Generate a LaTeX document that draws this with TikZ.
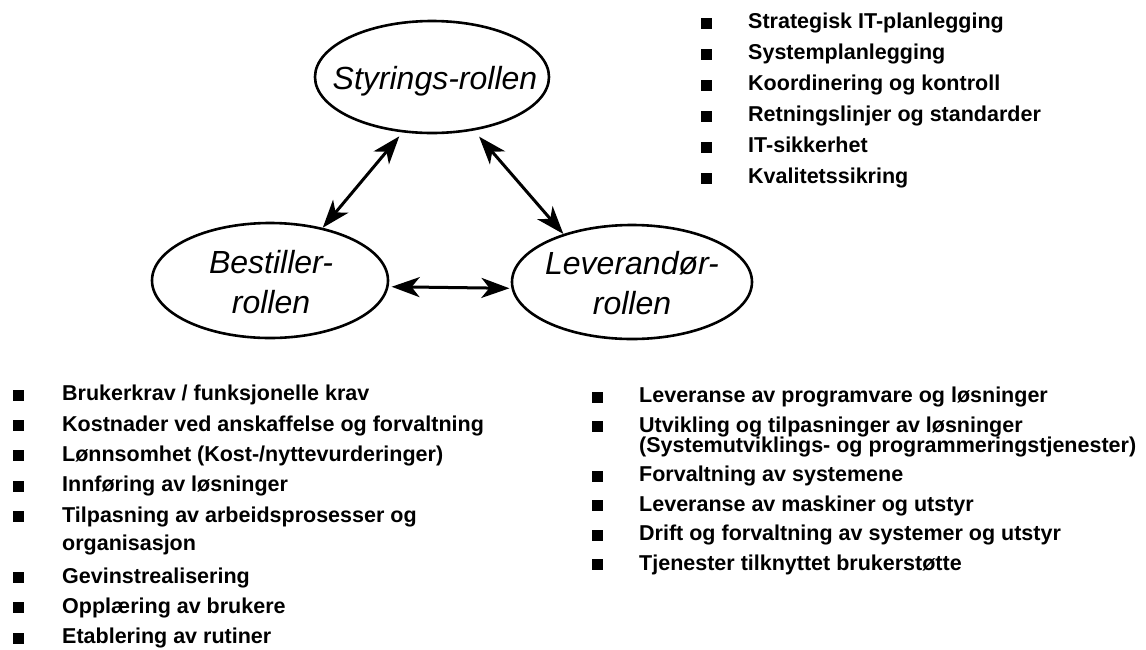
\documentclass[tikz,border=0pt]{standalone}
\usepackage{fontspec}
\setmainfont{Liberation Sans}
\usetikzlibrary{shapes.geometric,arrows.meta}

\begin{document}
\begin{tikzpicture}[x=1pt,y=-1pt,
  role/.style={draw, ellipse, line width=2.6pt, inner sep=0pt},
  roletext/.style={font=\fontsize{32}{40}\selectfont\itshape, align=center, inner sep=0pt},
  link/.style={line width=3pt,
    {Stealth[length=28pt,width=20pt,inset=8pt]}-{Stealth[length=28pt,width=20pt,inset=8pt]}},
  bul/.style={fill=black, minimum size=11pt, inner sep=0pt},
  item/.style={font=\fontsize{21.5}{25}\selectfont\bfseries, anchor=base west, inner sep=0pt}
]
\useasboundingbox (0,0) rectangle (1146,649);

% the three roles
\node[role, minimum width=234pt, minimum height=112pt] (sty) at (432,77) {};
\node[roletext] (styT) at (435,81) {Styrings-rollen};

\node[role, minimum width=236pt, minimum height=115pt] (bes) at (270,280.5) {};
\node[roletext] (besT) at (271,282) {Bestiller-\\rollen};

\node[role, minimum width=240pt, minimum height=114pt] (lev) at (632,282) {};
\node[roletext] (levT) at (632,283) {Leverandør-\\rollen};

% two-way relations
\draw[link, shorten <=5pt] (sty.242.3) -- (bes.45.5);
\draw[link, shorten <=8pt] (sty.308.5) -- (lev.145.8);
\draw[link, shorten <=3pt, shorten >=2pt] (bes.-3.5) -- (lev.183);

% tasks of the steering role
\foreach \t [count=\i from 0] in {Strategisk IT-planlegging, Systemplanlegging,
    Koordinering og kontroll, Retningslinjer og standarder, IT-sikkerhet, Kvalitetssikring}{
  \node[bul] (sb\i) at (706,{23+31*\i}) {};
  \node[item] (st\i) at (748,{28.6+31*\i}) {\t};
}

% tasks of the ordering role
\foreach \r/\t [count=\i from 0] in {0/{Brukerkrav / funksjonelle krav},
    1/{Kostnader ved anskaffelse og forvaltning},
    2/{Lønnsomhet (Kost-/nyttevurderinger)},
    3/{Innføring av løsninger},
    4/{Tilpasning av arbeidsprosesser og},
    6/{Gevinstrealisering},
    7/{Opplæring av brukere},
    8/{Etablering av rutiner}}{
  \node[bul] (bb\i) at (18,{395+30.4*\r}) {};
  \node[item] (bt\i) at (62,{400.6+30.4*\r}) {\t};
}
\node[item] (btc) at (62,{398.6+30.4*5}) {organisasjon};

% tasks of the supplier role
\foreach \y/\t [count=\i from 0] in {397/{Leveranse av programvare og løsninger},
    426.5/{Utvikling og tilpasninger av løsninger},
    476/{Forvaltning av systemene},
    505.5/{Leveranse av maskiner og utstyr},
    535/{Drift og forvaltning av systemer og utstyr},
    564.5/{Tjenester tilknyttet brukerstøtte}}{
  \node[bul] (lb\i) at (597,\y) {};
  \node[item] (lt\i) at (639,{\y+5.6}) {\t};
}
\node[item] (ltc) at (639,{446.5+5.6}) {(Systemutviklings- og programmeringstjenester)};
\end{tikzpicture}
\end{document}
